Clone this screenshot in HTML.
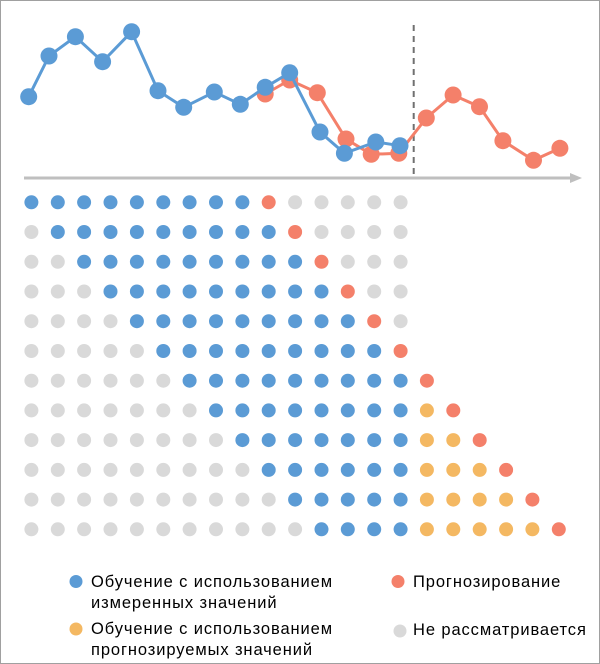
<!DOCTYPE html>
<html><head><meta charset="utf-8"><style>
html,body{margin:0;padding:0;background:#fff}
svg{display:block}
text{font-family:"Liberation Sans","DejaVu Sans",sans-serif;font-size:16.5px;letter-spacing:0.9px;fill:#000}
</style></head><body>
<svg width="600" height="664" xmlns="http://www.w3.org/2000/svg">
<rect x="0.5" y="0.5" width="599" height="663" fill="#fff" stroke="#a0a0a0"/>
<line x1="24" y1="178" x2="572" y2="178" stroke="#bfbfbf" stroke-width="3"/>
<polygon points="570,173 582,178 570,183" fill="#bfbfbf"/>
<line x1="413.7" y1="25" x2="413.7" y2="178" stroke="#707070" stroke-width="2" stroke-dasharray="6,5"/>
<g fill="#F4806A" stroke="#F4806A" stroke-width="3">
<polyline fill="none" points="265.2,94 289.7,80 317.3,92.7 346,139 371.2,154.3 398.8,153.3 426.3,118 453.1,95 479.5,106.7 502.9,140.7 533.5,160.3 559.9,148.3"/>
<g stroke="none">
<circle cx="265.2" cy="94" r="8.5"/><circle cx="289.7" cy="80" r="8.5"/><circle cx="317.3" cy="92.7" r="8.5"/><circle cx="346" cy="139" r="8.5"/><circle cx="371.2" cy="154.3" r="8.5"/><circle cx="398.8" cy="153.3" r="8.5"/><circle cx="426.3" cy="118" r="8.5"/><circle cx="453.1" cy="95" r="8.5"/><circle cx="479.5" cy="106.7" r="8.5"/><circle cx="502.9" cy="140.7" r="8.5"/><circle cx="533.5" cy="160.3" r="8.5"/><circle cx="559.9" cy="148.3" r="8.5"/>
</g></g>
<g fill="#5B9BD5" stroke="#5B9BD5" stroke-width="3">
<polyline fill="none" points="28.7,96.7 49,56 75.4,36.7 102.6,61.7 131.6,31.7 158,90.7 183.7,107.3 214.3,92 240.3,104.3 265.2,87.3 289.7,72.7 320,132 344.4,153.3 375.8,142 400,145.7"/>
<g stroke="none">
<circle cx="28.7" cy="96.7" r="8.5"/><circle cx="49" cy="56" r="8.5"/><circle cx="75.4" cy="36.7" r="8.5"/><circle cx="102.6" cy="61.7" r="8.5"/><circle cx="131.6" cy="31.7" r="8.5"/><circle cx="158" cy="90.7" r="8.5"/><circle cx="183.7" cy="107.3" r="8.5"/><circle cx="214.3" cy="92" r="8.5"/><circle cx="240.3" cy="104.3" r="8.5"/><circle cx="265.2" cy="87.3" r="8.5"/><circle cx="289.7" cy="72.7" r="8.5"/><circle cx="320" cy="132" r="8.5"/><circle cx="344.4" cy="153.3" r="8.5"/><circle cx="375.8" cy="142" r="8.5"/><circle cx="400" cy="145.7" r="8.5"/>
</g></g>
<g id="grid"></g>
<circle cx="76" cy="581.5" r="6.5" fill="#5B9BD5"/>
<circle cx="76" cy="629" r="6.5" fill="#F4B862"/>
<circle cx="398" cy="581.5" r="6.5" fill="#F4806A"/>
<circle cx="400" cy="631" r="6.5" fill="#D9D9D9"/>
<text x="91" y="587">Обучение с использованием</text>
<text x="91" y="608">измеренных значений</text>
<text x="91" y="634">Обучение с использованием</text>
<text x="91" y="655">прогнозируемых значений</text>
<text x="413" y="587">Прогнозирование</text>
<text x="413" y="635">Не рассматривается</text>
</svg>
<script>
var g=document.getElementById('grid'),s='';
for(var r=0;r<12;r++){for(var c=0;c<=20;c++){var col=null;
if(c<r)col='#D9D9D9';else if(c<=Math.min(r+8,14))col='#5B9BD5';else if(c==r+9)col='#F4806A';else if(c<r+9&&c>=15)col='#F4B862';else if(c<=14)col='#D9D9D9';
if(col)s+='<ellipse cx="'+(31.4+c*26.37).toFixed(1)+'" cy="'+(202.3+r*29.73).toFixed(1)+'" rx="7" ry="7" fill="'+col+'"/>';}}
g.innerHTML=s;
</script>
</body></html>
